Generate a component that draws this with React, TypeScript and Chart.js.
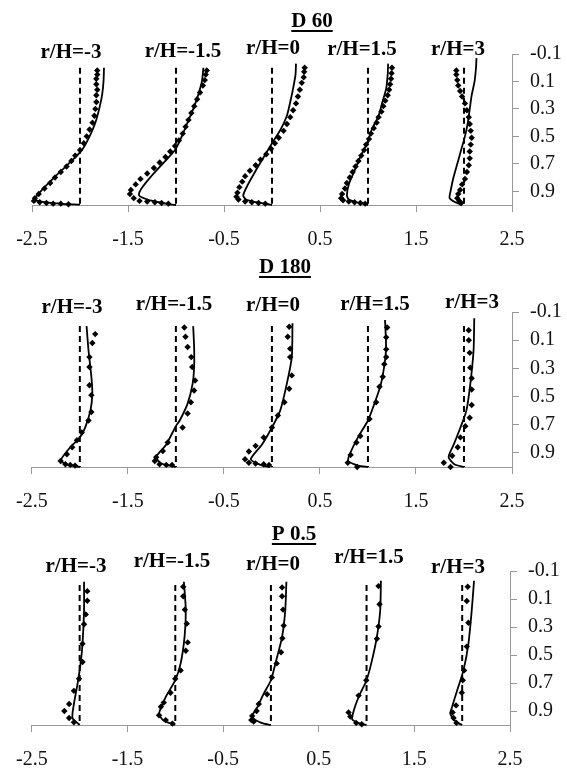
import React, { useEffect, useRef } from "react";
import { Chart, registerables } from "chart.js";

Chart.register(...registerables);

type Pt = [number, number];

// ---------- axis ticks / labels ----------
const X_TICKS = [-2.5, -1.5, -0.5, 0.5, 1.5, 2.5];
const Y_TICKS = [-0.1, 0.1, 0.3, 0.5, 0.7, 0.9];
const PROFILE_OFFSETS = [-2, -1, 0, 1, 2];
const PROFILE_LABELS = ["r/H=-3", "r/H=-1.5", "r/H=0", "r/H=1.5", "r/H=3"];
const PANEL_TITLES = ["D 60", "D 180", "P 0.5"];

// ---------- D 60 : measured (diamonds) [x, y] ----------
const D60_OBS_M3: Pt[] = [[-1.82,0.02],[-1.82,0.05],[-1.83,0.08],[-1.83,0.12],[-1.82,0.16],[-1.83,0.2],[-1.83,0.25],[-1.84,0.3],[-1.85,0.35],[-1.87,0.4],[-1.9,0.45],[-1.93,0.5],[-1.96,0.55],[-2.0,0.6],[-2.05,0.64],[-2.09,0.68],[-2.14,0.72],[-2.2,0.76],[-2.26,0.8],[-2.31,0.84],[-2.37,0.88],[-2.43,0.92],[-2.47,0.95],[-2.48,0.97],[-2.42,0.98],[-2.35,0.985],[-2.28,0.99],[-2.2,0.99],[-2.12,0.995]];
const D60_OBS_M15: Pt[] = [[-0.68,0.02],[-0.69,0.05],[-0.7,0.09],[-0.72,0.13],[-0.75,0.18],[-0.78,0.23],[-0.81,0.28],[-0.84,0.33],[-0.87,0.38],[-0.9,0.43],[-0.93,0.48],[-0.97,0.53],[-1.01,0.57],[-1.06,0.61],[-1.11,0.65],[-1.17,0.69],[-1.23,0.73],[-1.3,0.77],[-1.37,0.81],[-1.42,0.85],[-1.47,0.89],[-1.48,0.92],[-1.44,0.95],[-1.38,0.97],[-1.3,0.975],[-1.22,0.98],[-1.15,0.985],[-1.08,0.99]];
const D60_OBS_0: Pt[] = [[0.34,0.0],[0.335,0.03],[0.33,0.07],[0.31,0.11],[0.29,0.16],[0.27,0.21],[0.25,0.26],[0.22,0.31],[0.19,0.36],[0.155,0.41],[0.12,0.46],[0.07,0.51],[0.03,0.55],[-0.01,0.59],[-0.06,0.63],[-0.12,0.67],[-0.17,0.71],[-0.23,0.75],[-0.28,0.79],[-0.31,0.83],[-0.34,0.87],[-0.36,0.91],[-0.37,0.94],[-0.35,0.96],[-0.28,0.975],[-0.21,0.98],[-0.14,0.985],[-0.07,0.99]];
const D60_OBS_15: Pt[] = [[1.25,0.0],[1.245,0.04],[1.24,0.08],[1.23,0.12],[1.22,0.16],[1.205,0.2],[1.18,0.24],[1.16,0.28],[1.14,0.32],[1.11,0.36],[1.09,0.4],[1.06,0.44],[1.03,0.48],[1.01,0.52],[0.98,0.56],[0.96,0.6],[0.93,0.64],[0.9,0.68],[0.87,0.72],[0.84,0.76],[0.81,0.8],[0.78,0.84],[0.76,0.88],[0.73,0.92],[0.72,0.95],[0.74,0.965],[0.8,0.975],[0.86,0.98],[0.92,0.985],[0.97,0.99]];
const D60_OBS_3: Pt[] = [[1.92,0.02],[1.92,0.05],[1.93,0.09],[1.94,0.13],[1.96,0.17],[1.98,0.21],[2.01,0.26],[2.03,0.31],[2.05,0.36],[2.06,0.41],[2.07,0.46],[2.08,0.51],[2.07,0.56],[2.06,0.61],[2.06,0.66],[2.05,0.71],[2.03,0.76],[2.01,0.81],[1.98,0.85],[1.96,0.89],[1.94,0.92],[1.93,0.95],[1.95,0.97],[1.97,0.985]];

// ---------- D 60 : model (solid line) [x, y] ----------
const D60_MOD_M3: Pt[] = [[-1.75,0.0],[-1.755,0.1],[-1.77,0.2],[-1.8,0.3],[-1.84,0.4],[-1.9,0.5],[-1.98,0.6],[-2.12,0.7],[-2.27,0.8],[-2.41,0.9],[-2.47,0.955],[-2.44,0.97],[-2.3,0.985],[-2.15,0.993],[-2.0,0.998]];
const D60_MOD_M15: Pt[] = [[-0.715,0.0],[-0.73,0.1],[-0.77,0.2],[-0.82,0.3],[-0.88,0.4],[-0.94,0.5],[-1.01,0.6],[-1.14,0.7],[-1.27,0.8],[-1.36,0.88],[-1.385,0.93],[-1.3,0.96],[-1.18,0.98],[-1.06,0.995],[-1.0,1.0]];
const D60_MOD_0: Pt[] = [[0.25,-0.03],[0.245,0.05],[0.22,0.15],[0.19,0.25],[0.155,0.35],[0.09,0.45],[0.0,0.55],[-0.085,0.65],[-0.17,0.75],[-0.25,0.85],[-0.3,0.93],[-0.27,0.96],[-0.16,0.98],[-0.07,0.99],[0.0,1.0]];
const D60_MOD_15: Pt[] = [[1.21,-0.03],[1.205,0.05],[1.19,0.15],[1.15,0.25],[1.11,0.35],[1.04,0.45],[0.99,0.55],[0.92,0.65],[0.86,0.75],[0.8,0.85],[0.78,0.93],[0.8,0.96],[0.88,0.98],[0.95,0.99],[1.0,1.0]];
const D60_MOD_3: Pt[] = [[2.13,-0.07],[2.125,0.0],[2.11,0.1],[2.08,0.2],[2.06,0.3],[2.04,0.4],[2.01,0.5],[1.97,0.6],[1.93,0.7],[1.89,0.8],[1.86,0.9],[1.85,0.95],[1.91,0.98],[1.98,1.0]];

// ---------- D 180 : measured ----------
const D180_OBS_M3: Pt[] = [[-1.84,0.057],[-1.87,0.12],[-1.9,0.22],[-1.9,0.29],[-1.9,0.42],[-1.88,0.49],[-1.88,0.61],[-1.91,0.67],[-1.98,0.755],[-2.03,0.81],[-2.08,0.86],[-2.135,0.91],[-2.2,0.957],[-2.15,0.98],[-2.1,0.985],[-2.05,0.99]];
const D180_OBS_M15: Pt[] = [[-0.912,0.01],[-0.9,0.076],[-0.878,0.148],[-0.84,0.22],[-0.83,0.29],[-0.8,0.386],[-0.81,0.457],[-0.844,0.54],[-0.878,0.62],[-0.93,0.72],[-1.085,0.826],[-1.136,0.886],[-1.205,0.93],[-1.22,0.957],[-1.17,0.98],[-1.1,0.985],[-1.04,0.985]];
const D180_OBS_0: Pt[] = [[0.18,0.005],[0.165,0.076],[0.19,0.16],[0.19,0.22],[0.207,0.35],[0.18,0.445],[0.13,0.54],[0.062,0.635],[0.0,0.72],[-0.086,0.79],[-0.17,0.85],[-0.24,0.89],[-0.28,0.945],[-0.24,0.97],[-0.17,0.975],[-0.086,0.98],[-0.03,0.985]];
const D180_OBS_15: Pt[] = [[1.2,0.01],[1.19,0.08],[1.19,0.165],[1.19,0.22],[1.17,0.27],[1.154,0.36],[1.12,0.43],[1.085,0.54],[1.016,0.66],[0.92,0.78],[0.88,0.826],[0.82,0.914],[0.79,0.97],[0.888,1.0]];
const D180_OBS_3: Pt[] = [[2.049,0.03],[2.05,0.1],[2.06,0.19],[2.066,0.295],[2.08,0.37],[2.08,0.45],[2.08,0.56],[2.06,0.65],[2.014,0.71],[1.963,0.79],[1.935,0.86],[1.877,0.92],[1.79,0.97],[1.86,1.0]];

// ---------- D 180 : model ----------
const D180_MOD_M3: Pt[] = [[-1.93,0.0],[-1.91,0.17],[-1.88,0.36],[-1.87,0.48],[-1.89,0.6],[-1.945,0.72],[-2.0,0.79],[-2.1,0.86],[-2.2,0.955],[-2.12,0.985],[-2.0,1.0]];
const D180_MOD_M15: Pt[] = [[-0.82,0.0],[-0.81,0.15],[-0.81,0.29],[-0.826,0.41],[-0.878,0.55],[-0.96,0.67],[-1.0,0.71],[-1.1,0.84],[-1.205,0.93],[-1.15,0.975],[-1.0,1.0]];
const D180_MOD_0: Pt[] = [[0.214,-0.02],[0.207,0.22],[0.155,0.41],[0.086,0.6],[0.0,0.72],[-0.103,0.84],[-0.22,0.945],[-0.12,0.985],[-0.02,1.0]];
const D180_MOD_15: Pt[] = [[1.178,-0.043],[1.188,0.17],[1.136,0.41],[1.067,0.55],[1.0,0.67],[0.896,0.79],[0.81,0.91],[0.795,0.957],[0.9,0.99],[1.0,1.0]];
const D180_MOD_3: Pt[] = [[2.107,-0.055],[2.1,0.17],[2.066,0.41],[2.025,0.6],[1.963,0.72],[1.894,0.84],[1.84,0.93],[1.9,0.98],[2.0,1.0]];

// ---------- P 0.5 : measured ----------
const P05_OBS_M3: Pt[] = [[-1.92,0.044],[-1.92,0.113],[-1.936,0.21],[-1.954,0.28],[-1.97,0.42],[-1.97,0.55],[-2.006,0.67],[-2.06,0.756],[-2.11,0.85],[-2.16,0.9],[-2.11,0.95],[-2.06,0.98]];
const P05_OBS_M15: Pt[] = [[-0.917,0.013],[-0.917,0.08],[-0.9,0.176],[-0.88,0.276],[-0.87,0.41],[-0.89,0.47],[-0.944,0.61],[-1.0,0.67],[-1.05,0.77],[-1.12,0.84],[-1.15,0.87],[-1.17,0.93],[-1.1,0.965],[-1.03,0.99]];
const P05_OBS_0: Pt[] = [[0.117,0.017],[0.117,0.08],[0.127,0.176],[0.134,0.29],[0.12,0.38],[0.106,0.48],[0.06,0.56],[0.01,0.66],[-0.04,0.78],[-0.127,0.85],[-0.15,0.9],[-0.196,0.935],[-0.205,0.965],[-0.18,0.975]];
const P05_OBS_15: Pt[] = [[1.125,0.008],[1.136,0.137],[1.125,0.296],[1.108,0.384],[0.997,0.68],[0.917,0.79],[0.812,0.91],[0.83,0.94],[0.892,0.985],[0.95,0.995]];
const P05_OBS_3: Pt[] = [[2.058,0.013],[2.048,0.114],[2.065,0.27],[2.048,0.44],[2.02,0.61],[2.006,0.68],[1.996,0.77],[1.936,0.86],[1.9,0.91],[1.91,0.95],[1.94,0.985]];

// ---------- P 0.5 : model ----------
const P05_MOD_M3: Pt[] = [[-1.954,-0.023],[-1.954,0.18],[-1.97,0.42],[-1.99,0.56],[-2.023,0.71],[-2.06,0.85],[-2.075,0.95],[-2.0,1.0]];
const P05_MOD_M15: Pt[] = [[-0.91,-0.023],[-0.89,0.18],[-0.903,0.37],[-0.944,0.56],[-1.0,0.68],[-1.1,0.8],[-1.17,0.92],[-1.12,0.97],[-1.0,1.0]];
const P05_MOD_0: Pt[] = [[0.162,-0.023],[0.15,0.18],[0.117,0.37],[0.047,0.56],[0.0,0.68],[-0.075,0.776],[-0.14,0.87],[-0.196,0.94],[-0.1,0.985],[0.0,1.0]];
const P05_MOD_15: Pt[] = [[1.15,-0.03],[1.143,0.18],[1.108,0.37],[1.056,0.54],[1.0,0.68],[0.917,0.8],[0.865,0.9],[0.85,0.96],[0.93,0.99],[1.0,1.0]];
const P05_MOD_3: Pt[] = [[2.124,-0.03],[2.1,0.18],[2.065,0.42],[2.013,0.61],[1.944,0.76],[1.89,0.88],[1.875,0.92],[1.93,0.975],[2.0,1.0]];

const PANEL_OBS: Pt[][][] = [
  [D60_OBS_M3, D60_OBS_M15, D60_OBS_0, D60_OBS_15, D60_OBS_3],
  [D180_OBS_M3, D180_OBS_M15, D180_OBS_0, D180_OBS_15, D180_OBS_3],
  [P05_OBS_M3, P05_OBS_M15, P05_OBS_0, P05_OBS_15, P05_OBS_3],
];
const PANEL_MOD: Pt[][][] = [
  [D60_MOD_M3, D60_MOD_M15, D60_MOD_0, D60_MOD_15, D60_MOD_3],
  [D180_MOD_M3, D180_MOD_M15, D180_MOD_0, D180_MOD_15, D180_MOD_3],
  [P05_MOD_M3, P05_MOD_M15, P05_MOD_0, P05_MOD_15, P05_MOD_3],
];

// ---------- layout (pixels, canvas-local) ----------
const W = 567;
const FONT = "'Liberation Serif', 'Times New Roman', serif";
const LAYOUTS = [
  { top: 0, height: 255, area: { left: 32, right: 512, top: 54, bottom: 205 },
    titleX: 312, titleBase: 27, labelX: [71, 183, 273, 362, 458], labelBase: [58, 57, 54, 55, 55] },
  { top: 255, height: 257, area: { left: 28, right: 512, top: 57, bottom: 212 },
    titleX: 285, titleBase: 18, labelX: [72, 174, 273, 375, 472], labelBase: [58, 55, 56, 55, 53] },
  { top: 512, height: 259, area: { left: 31, right: 510, top: 59, bottom: 213 },
    titleX: 294, titleBase: 28, labelX: [76, 172, 273, 369, 458], labelBase: [60, 55, 58, 51, 61] },
];

function Panel({ idx }: { idx: number }) {
  const ref = useRef<HTMLCanvasElement | null>(null);
  const L = LAYOUTS[idx];

  useEffect(() => {
    if (!ref.current) return;
    const datasets: any[] = [];
    PROFILE_OFFSETS.forEach((off, i) => {
      datasets.push({
        data: [{ x: off, y: 0 }, { x: off, y: 1 }],
        showLine: true, borderColor: "#000", borderWidth: 2, borderDash: [6, 4],
        pointRadius: 0, clip: false,
      });
      datasets.push({
        data: PANEL_MOD[idx][i].map(([x, y]) => ({ x, y })),
        showLine: true, borderColor: "#000", borderWidth: 1.8, tension: 0.22,
        pointRadius: 0, clip: false,
      });
      datasets.push({
        data: PANEL_OBS[idx][i].map(([x, y]) => ({ x, y })),
        showLine: false, pointStyle: "rectRot", pointRadius: 3.2,
        backgroundColor: "#000", borderColor: "#000", borderWidth: 0, clip: false,
      });
    });

    const textPlugin = {
      id: "panelText" + idx,
      afterDraw(chart: any) {
        const ctx = chart.ctx as CanvasRenderingContext2D;
        ctx.save();
        ctx.fillStyle = "#000";
        ctx.font = `bold 21px ${FONT}`;
        ctx.textAlign = "center";
        ctx.textBaseline = "alphabetic";
        const title = PANEL_TITLES[idx];
        ctx.fillText(title, L.titleX, L.titleBase);
        const tw = ctx.measureText(title).width;
        ctx.fillRect(L.titleX - tw / 2, L.titleBase + 3, tw, 2);
        PROFILE_LABELS.forEach((lab, i) => {
          ctx.fillText(lab, L.labelX[i], L.labelBase[i]);
        });
        ctx.restore();
      },
    };

    const tickFont = { family: FONT, size: 20 };
    const chart = new Chart(ref.current, {
      type: "scatter",
      data: { datasets },
      options: {
        responsive: false,
        animation: false,
        devicePixelRatio: 1,
        layout: { padding: { top: L.area.top, left: L.area.left, right: 0, bottom: 0 } },
        plugins: { legend: { display: false }, tooltip: { enabled: false } },
        scales: {
          x: {
            type: "linear", min: -2.5, max: 2.5,
            afterBuildTicks: (s: any) => { s.ticks = X_TICKS.map((v) => ({ value: v })); },
            afterFit: (s: any) => { s.height = L.height - L.area.bottom; },
            ticks: {
              autoSkip: false, maxRotation: 0, padding: 16, color: "#111", font: tickFont,
              callback: (v: any) => Number(v).toFixed(1),
            },
            grid: { drawOnChartArea: false, drawTicks: true, tickLength: 7, color: "#999" },
            border: { display: true, color: "#999" },
          },
          y: {
            type: "linear", position: "right", reverse: true, min: -0.1, max: 1.0,
            afterBuildTicks: (s: any) => { s.ticks = Y_TICKS.map((v) => ({ value: v })); },
            afterFit: (s: any) => { s.width = W - L.area.right; },
            ticks: {
              autoSkip: false, padding: 11, color: "#111", font: tickFont,
              callback: (v: any) => Number(v).toFixed(1),
            },
            grid: { drawOnChartArea: false, drawTicks: true, tickLength: 7, color: "#999" },
            border: { display: true, color: "#999" },
          },
        },
      } as any,
      plugins: [textPlugin],
    });
    return () => chart.destroy();
  }, [idx]);

  return (
    <canvas
      ref={ref}
      width={W}
      height={L.height}
      style={{ position: "absolute", left: 0, top: L.top, width: W, height: L.height, display: "block" }}
    />
  );
}

export default function App() {
  return (
    <div style={{ position: "absolute", left: 0, top: 0, width: W, height: 771, background: "#fff", overflow: "hidden" }}>
      <Panel idx={0} />
      <Panel idx={1} />
      <Panel idx={2} />
    </div>
  );
}
